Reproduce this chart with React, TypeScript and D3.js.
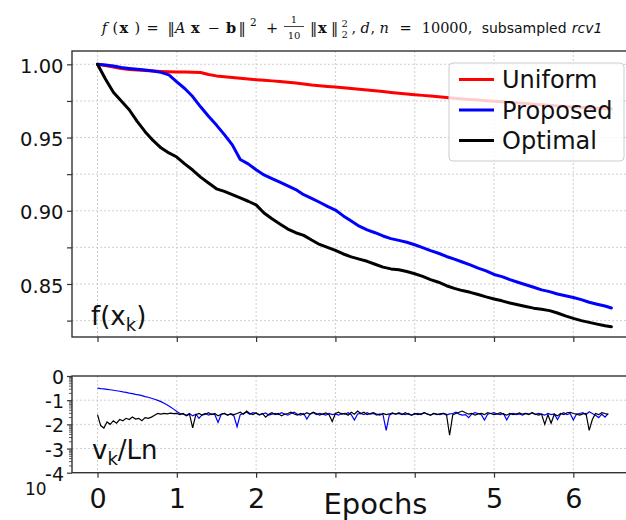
import React, { useEffect, useRef } from 'react';
import * as d3 from 'd3';

// top panel: objective f(x_k), sampled every 0.1 epoch
const fEpochs = [
  0, 0.1, 0.2, 0.3, 0.4, 0.5, 0.6, 0.7, 0.8, 0.9,
  1.0, 1.1, 1.2, 1.3, 1.4, 1.5, 1.6, 1.7, 1.8, 1.9,
  2.0, 2.1, 2.2, 2.3, 2.4, 2.5, 2.6, 2.7, 2.8, 2.9,
  3.0, 3.1, 3.2, 3.3, 3.4, 3.5, 3.6, 3.7, 3.8, 3.9,
  4.0, 4.1, 4.2, 4.3, 4.4, 4.5, 4.6, 4.7, 4.8, 4.9,
  5.0, 5.1, 5.2, 5.3, 5.4, 5.5, 5.6, 5.7, 5.8, 5.9,
  6.0, 6.1, 6.2, 6.3, 6.4, 6.48,
];

const fUniform = [
  1.0, 0.9992, 0.9982, 0.9972, 0.9965, 0.9962, 0.9958, 0.9954, 0.9951, 0.9949,
  0.9948, 0.9947, 0.9946, 0.9944, 0.993, 0.9921, 0.9915, 0.991, 0.9905, 0.99,
  0.9895, 0.9891, 0.9887, 0.9882, 0.9877, 0.9872, 0.9866, 0.9859, 0.9854, 0.9849,
  0.9845, 0.984, 0.9835, 0.983, 0.9825, 0.982, 0.9814, 0.9808, 0.9802, 0.9797,
  0.9792, 0.9788, 0.9783, 0.9779, 0.9774, 0.9769, 0.9764, 0.976, 0.9756, 0.9752,
  0.9748, 0.9744, 0.974, 0.9736, 0.9732, 0.9728, 0.9724, 0.972, 0.9716, 0.9712,
  0.9709, 0.9706, 0.9703, 0.97, 0.9698, 0.9695,
];

const fProposed = [
  1.0, 0.9995, 0.9988, 0.9978, 0.9972, 0.9966, 0.9961, 0.9955, 0.9945, 0.9928,
  0.988, 0.9835, 0.978, 0.971, 0.9645, 0.9585, 0.952, 0.945, 0.935, 0.932,
  0.928, 0.9245, 0.922, 0.9196, 0.917, 0.9145, 0.911, 0.9085, 0.9058, 0.903,
  0.9005, 0.8965, 0.893, 0.8895, 0.887, 0.885, 0.8828, 0.881, 0.8798, 0.8785,
  0.8768, 0.8748, 0.8728, 0.871, 0.8688, 0.867, 0.865, 0.863, 0.8608, 0.859,
  0.8565, 0.855, 0.853, 0.8512, 0.8495, 0.8478, 0.846, 0.8448, 0.8432, 0.842,
  0.8408, 0.8393, 0.8375, 0.8362, 0.835, 0.8336,
];

const fOptimal = [
  1.0, 0.99, 0.981, 0.975, 0.969, 0.961, 0.954, 0.948, 0.943, 0.9395,
  0.9367, 0.932, 0.9278, 0.923, 0.919, 0.915, 0.9132, 0.911, 0.9088, 0.9065,
  0.904, 0.8985, 0.8945, 0.891, 0.8875, 0.885, 0.8832, 0.88, 0.877, 0.875,
  0.873, 0.8705, 0.8685, 0.867, 0.8655, 0.8635, 0.8615, 0.8603, 0.8597, 0.8585,
  0.857, 0.8552, 0.853, 0.8512, 0.8488, 0.847, 0.8455, 0.8443, 0.8428, 0.8412,
  0.8398, 0.8385, 0.837, 0.8358, 0.8346, 0.8335, 0.8327, 0.8318, 0.8302, 0.8282,
  0.8265, 0.825, 0.8238, 0.8226, 0.8215, 0.8208,
];

// bottom panel: log10(v_k/Ln), one value every 0.04 epoch
const vEpochStep = 0.04;

const vProposed = [
  -0.5, -0.52, -0.53, -0.55, -0.57, -0.59, -0.61, -0.63, -0.66, -0.68,
  -0.71, -0.73, -0.76, -0.78, -0.81, -0.85, -0.88, -0.92, -0.96, -1.01,
  -1.06, -1.13, -1.2, -1.28, -1.37, -1.47, -1.55, -1.58, -1.62, -1.55,
  -1.65, -1.58, -1.75, -1.6, -1.55, -1.62, -1.57, -1.6, -1.92, -1.58,
  -1.55, -1.62, -1.57, -1.65, -2.1, -1.6, -1.55, -1.5, -1.58, -1.52,
  -1.55, -1.6, -1.57, -1.53, -1.62, -1.58, -1.55, -1.6, -1.52, -1.57,
  -1.62, -1.55, -1.5, -1.58, -1.62, -1.55, -1.78, -1.57, -1.52, -1.6,
  -1.55, -1.58, -1.62, -1.55, -1.6, -1.57, -1.62, -1.55, -1.58, -1.52,
  -1.6, -1.82, -1.57, -1.55, -1.6, -1.52, -1.58, -1.55, -1.62, -1.57,
  -1.6, -2.25, -1.62, -1.55, -1.58, -1.52, -1.57, -1.6, -1.55, -1.62,
  -1.58, -1.55, -1.6, -1.52, -1.57, -1.62, -1.55, -1.58, -1.6, -1.55,
  -1.62, -1.57, -1.55, -1.5, -1.58, -1.62, -1.6, -1.72, -1.57, -1.52,
  -1.55, -1.6, -1.82, -1.58, -1.55, -1.52, -1.57, -1.6, -1.55, -1.82,
  -1.58, -1.55, -1.6, -1.57, -1.62, -1.55, -1.58, -1.52, -1.6, -1.55,
  -1.58, -1.62, -1.55, -1.6, -1.57, -1.8, -1.58, -1.52, -1.6, -1.55,
  -1.82, -1.58, -1.55, -1.52, -1.6, -1.48, -1.55, -1.62, -1.72, -1.58,
  -1.7, -1.55,
];

const vOptimal = [
  -1.6, -2.05, -2.15, -1.9, -2.0, -1.85, -1.95, -1.8, -1.85, -1.75,
  -1.8, -1.7, -1.78, -1.75, -1.85, -1.72, -1.75, -1.7, -1.62, -1.55,
  -1.58, -1.55, -1.57, -1.54, -1.56, -1.55, -1.6, -1.55, -1.65, -1.58,
  -2.15, -1.6, -1.55, -1.62, -1.58, -1.52, -1.6, -1.55, -1.65, -1.58,
  -1.55, -1.62, -1.57, -1.6, -1.55, -1.5, -1.58, -1.45, -1.55, -1.6,
  -1.52, -1.62, -1.55, -1.7, -1.58, -1.52, -1.6, -1.55, -1.65, -1.58,
  -1.55, -1.5, -1.57, -1.62, -1.55, -1.6, -1.52, -1.58, -1.5, -1.55,
  -1.62, -1.57, -1.53, -1.6, -1.88, -1.55, -1.5, -1.58, -1.55, -1.62,
  -1.5, -1.58, -1.45, -1.55, -1.5, -1.6, -1.55, -1.52, -1.58, -1.62,
  -1.55, -1.6, -1.57, -1.53, -1.58, -1.55, -1.6, -1.52, -1.58, -1.62,
  -1.55, -1.6, -1.57, -1.52, -1.58, -1.62, -1.55, -1.6, -1.57, -1.55,
  -1.58, -2.45, -1.6, -1.55, -1.5, -1.45, -1.52, -1.58, -1.55, -1.62,
  -1.57, -1.55, -1.6, -1.52, -1.55, -1.6, -1.57, -1.52, -1.58, -1.62,
  -1.55, -1.6, -1.57, -1.53, -1.58, -1.55, -1.6, -1.52, -1.57, -1.62,
  -1.58, -2.0, -1.6, -1.95, -1.58, -1.65, -1.55, -1.6, -1.52, -1.5,
  -1.55, -1.58, -1.62, -1.57, -1.55, -2.25, -1.8, -1.55, -1.6, -1.52,
  -1.55, -1.6,
];

const seriesNames = ['Uniform', 'Proposed', 'Optimal'];
const seriesColors = ['#ff0000', '#0000ff', '#000000'];

const xTicks = [0, 1, 2, 3, 4, 5, 6];
const xTickLabels = ['0', '1', '2', '', '', '5', '6'];
const fTicks = [0.825, 0.85, 0.875, 0.9, 0.925, 0.95, 0.975, 1.0];
const fTickLabels = ['', '0.85', '', '0.90', '', '0.95', '', '1.00'];
const vDecades = [-4, -3, -2, -1, 0];

const SANS = "'DejaVu Sans', Verdana, sans-serif";
const SERIF = "'DejaVu Serif', 'Liberation Serif', serif";

export default function App() {
  const svgRef = useRef<SVGSVGElement>(null);

  useEffect(() => {
    document.body.style.margin = '0';
    const svg = d3.select(svgRef.current);
    svg.selectAll('*').remove();

    const top = { left: 72, right: 627, top: 51, bottom: 337 };
    const bot = { left: 72, right: 627, top: 376, bottom: 472.7 };

    const x = d3.scaleLinear().domain([-0.3216, 6.677]).range([top.left, top.right]);
    const yF = d3.scaleLinear().domain([0.8138, 1.0091]).range([top.bottom, top.top]);
    const yV = d3.scaleLog().domain([1e-4, 1]).range([bot.bottom, bot.top]);

    const gridColor = '#c4c4c4';

    // grids
    const grid = svg.append('g').attr('stroke', gridColor).attr('stroke-width', 0.8)
      .attr('stroke-dasharray', '2,2');
    xTicks.forEach((t) => {
      grid.append('line').attr('x1', x(t)).attr('x2', x(t)).attr('y1', top.top).attr('y2', top.bottom);
      grid.append('line').attr('x1', x(t)).attr('x2', x(t)).attr('y1', bot.top).attr('y2', bot.bottom);
    });
    fTicks.forEach((t) => {
      grid.append('line').attr('x1', top.left).attr('x2', top.right).attr('y1', yF(t)).attr('y2', yF(t));
    });
    vDecades.slice(1, -1).forEach((d) => {
      const v = Math.pow(10, d);
      grid.append('line').attr('x1', bot.left).attr('x2', bot.right).attr('y1', yV(v)).attr('y2', yV(v));
    });

    // top panel lines
    const fLine = d3.line<number>()
      .x((_, i) => x(fEpochs[i]))
      .y((d) => yF(d));
    [fUniform, fProposed, fOptimal].forEach((s, k) => {
      svg.append('path').attr('d', fLine(s)).attr('fill', 'none')
        .attr('stroke', seriesColors[k]).attr('stroke-width', 3)
        .attr('stroke-linejoin', 'round').attr('stroke-linecap', 'round');
    });

    // bottom panel lines
    const vLine = d3.line<number>()
      .x((_, i) => x(i * vEpochStep))
      .y((d) => yV(Math.pow(10, d)));
    [vProposed, vOptimal].forEach((s, k) => {
      svg.append('path').attr('d', vLine(s)).attr('fill', 'none')
        .attr('stroke', seriesColors[k + 1]).attr('stroke-width', 1.2);
    });

    // spines
    const spine = '#333';
    [top, bot].forEach((b) => {
      svg.append('rect').attr('x', b.left).attr('y', b.top)
        .attr('width', b.right - b.left).attr('height', b.bottom - b.top)
        .attr('fill', 'none').attr('stroke', spine).attr('stroke-width', 1.4);
    });

    const styleAxis = (g: any, size: number) => {
      g.select('.domain').remove();
      g.selectAll('line').attr('stroke', spine).attr('stroke-width', 1.2);
      g.selectAll('text').attr('font-family', SANS).attr('font-size', size).attr('fill', '#111');
    };

    // top y axis
    svg.append('g').attr('transform', `translate(${top.left},0)`)
      .call(d3.axisLeft(yF).tickValues(fTicks).tickSize(5).tickPadding(3.5)
        .tickFormat((_, i) => fTickLabels[i]))
      .call((g) => styleAxis(g, 19.5))
      .call((g) => g.selectAll('text').attr('dy', '0.42em'));

    // top x ticks (no labels)
    svg.append('g').attr('transform', `translate(0,${top.bottom})`)
      .call(d3.axisBottom(x).tickValues(xTicks).tickSize(5).tickFormat(() => ''))
      .call((g) => styleAxis(g, 10));

    // bottom y axis (log): majors + minors
    svg.append('g').attr('transform', `translate(${bot.left},0)`)
      .call(d3.axisLeft(yV).tickValues(vDecades.map((d) => Math.pow(10, d))).tickSize(5).tickPadding(3)
        .tickFormat((_, i) => String(vDecades[i])))
      .call((g) => styleAxis(g, 19))
      .call((g) => g.selectAll('text').attr('dy', '0.4em'));

    const minors: number[] = [];
    vDecades.slice(0, -1).forEach((d) => {
      for (let m = 2; m <= 9; m++) minors.push(m * Math.pow(10, d));
    });
    svg.append('g').attr('transform', `translate(${bot.left},0)`)
      .call(d3.axisLeft(yV).tickValues(minors).tickSize(3).tickFormat(() => ''))
      .call((g) => styleAxis(g, 10))
      .call((g) => g.selectAll('line').attr('stroke-width', 0.8));

    svg.append('text').attr('x', 25).attr('y', 495).text('10')
      .attr('font-family', SANS).attr('font-size', 17).attr('fill', '#111');

    // bottom x axis
    svg.append('g').attr('transform', `translate(0,${bot.bottom})`)
      .call(d3.axisBottom(x).tickValues(xTicks).tickSize(5).tickPadding(11)
        .tickFormat((_, i) => xTickLabels[i]))
      .call((g) => styleAxis(g, 27));

    svg.append('text').attr('x', 375.5).attr('y', 514).attr('text-anchor', 'middle')
      .attr('font-family', SANS).attr('font-size', 29).attr('fill', '#111').text('Epochs');

    // in-axes labels
    const fLab = svg.append('text').attr('x', 91).attr('y', 325)
      .attr('font-family', SANS).attr('font-size', 26).attr('fill', '#111');
    fLab.append('tspan').text('f(x');
    fLab.append('tspan').attr('font-size', 18).attr('dy', 6).text('k');
    fLab.append('tspan').attr('dy', -6).text(')');

    const vLab = svg.append('text').attr('x', 92).attr('y', 459)
      .attr('font-family', SANS).attr('font-size', 26).attr('fill', '#111');
    vLab.append('tspan').text('v');
    vLab.append('tspan').attr('font-size', 18).attr('dy', 6).text('k');
    vLab.append('tspan').attr('dy', -6).text('/Ln');

    // legend
    const lg = svg.append('g');
    lg.append('rect').attr('x', 449).attr('y', 63).attr('width', 175).attr('height', 98)
      .attr('rx', 4).attr('fill', '#fff').attr('fill-opacity', 0.8)
      .attr('stroke', '#cccccc').attr('stroke-width', 1);
    seriesNames.forEach((n, i) => {
      const cy = 79.5 + i * 30.5;
      lg.append('line').attr('x1', 459).attr('x2', 494).attr('y1', cy).attr('y2', cy)
        .attr('stroke', seriesColors[i]).attr('stroke-width', 3);
      lg.append('text').attr('x', 502).attr('y', cy + 8.5).text(n)
        .attr('font-family', SANS).attr('font-size', 24).attr('fill', '#111');
    });

    // title (mathtext-like)
    const base = 32.5;
    const title = svg.append('text').attr('font-family', SERIF).attr('font-size', 14.5).attr('fill', '#111');
    const glyphs: [number, string, string?, number?, number?][] = [
      [101.7, 'f', 'i'], [112.5, '('], [119.5, 'x', 'b'], [134.5, ')'], [146.5, '='],
      [167.5, '‖'], [175, 'A', 'i'], [191, 'x', 'b'], [207.5, '−'], [226, 'b', 'b'], [238.5, '‖'],
      [250, '2', '', 10.5, 25.5], [266, '+'],
      [310, '‖'], [318, 'x', 'b'], [331, '‖'], [341.5, '2', '', 10, 26.5], [341.5, '2', '', 10, 38.3],
      [351.5, ','], [360.5, 'd', 'i'], [370.5, ','], [379.5, 'n', 'i'], [399.5, '='], [421.7, '10000,'],
    ];
    glyphs.forEach(([gx, t, st, fs, gy]) => {
      const sp = title.append('tspan').attr('x', gx).attr('y', gy ?? base).text(t);
      if (st === 'i') sp.attr('font-style', 'italic');
      if (st === 'b') sp.attr('font-weight', 'bold');
      if (fs) sp.attr('font-size', fs);
    });
    svg.append('text').attr('x', 294).attr('y', 23.3).attr('text-anchor', 'middle')
      .attr('font-family', SERIF).attr('font-size', 10).attr('fill', '#111').text('1');
    svg.append('text').attr('x', 294).attr('y', 39.3).attr('text-anchor', 'middle')
      .attr('font-family', SERIF).attr('font-size', 10).attr('fill', '#111').text('10');
    svg.append('line').attr('x1', 284).attr('x2', 304).attr('y1', 26.5).attr('y2', 26.5)
      .attr('stroke', '#111').attr('stroke-width', 0.8);
    svg.append('text').attr('x', 481.7).attr('y', base).attr('font-family', SANS)
      .attr('font-size', 14).attr('fill', '#111').text('subsampled');
    svg.append('text').attr('x', 571.7).attr('y', base).attr('font-family', SANS)
      .attr('font-size', 14).attr('font-style', 'italic').attr('fill', '#111').text('rcv1');
  }, []);

  return (
    <svg
      ref={svgRef}
      width={626}
      height={520}
      style={{ display: 'block', position: 'absolute', left: 0, top: 0, background: '#fff' }}
    />
  );
}
